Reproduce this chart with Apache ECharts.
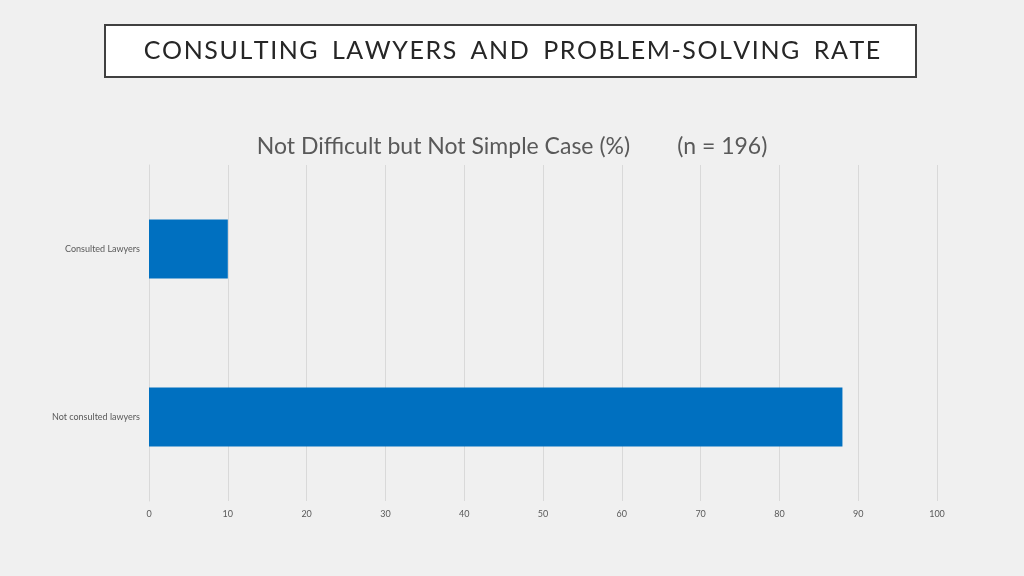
<!DOCTYPE html>
<html>
<head>
<meta charset="utf-8">
<script src="https://cdn.jsdelivr.net/npm/echarts@6/dist/echarts.min.js"></script>
<style>
  html, body { margin: 0; padding: 0; background: #f0f0f0; }
  #main { width: 1024px; height: 576px; }
</style>
</head>
<body>
<div id="main"></div>
<script>
const categories = ['Consulted Lawyers', 'Not consulted lawyers'];
const values = [10, 88];
const xTicks = [0, 10, 20, 30, 40, 50, 60, 70, 80, 90, 100];

const myChart = echarts.init(document.getElementById('main'));
myChart.setOption({
  backgroundColor: '#f0f0f0',
  animation: false,
  graphic: [
    {
      type: 'rect',
      shape: { x: 105, y: 25, width: 811, height: 52 },
      style: { fill: '#ffffff', stroke: '#404040', lineWidth: 2 }
    },
    {
      type: 'text',
      left: 'center',
      top: 38,
      style: {
        text: 'C O N S U L T I N G   L A W Y E R S   A N D   P R O B L E M - S O L V I N G   R A T E'.replace(/ (?! )/g, '\u200a'),
        font: '25px Lato',
        fill: '#262626'
      }
    }
  ],
  title: {
    text: 'Not Difficult but Not Simple Case (%)        (n = 196)',
    left: 'center',
    top: 130,
    textStyle: { color: '#595959', fontSize: 23, fontWeight: 'normal', fontFamily: 'Lato' }
  },
  grid: { left: 149, right: 87, top: 165, bottom: 75 },
  xAxis: {
    type: 'value',
    min: xTicks[0],
    max: xTicks[xTicks.length - 1],
    interval: 10,
    axisLine: { show: false },
    axisTick: { show: false },
    axisLabel: { color: '#595959', fontSize: 9, fontFamily: 'Lato', margin: 9 },
    splitLine: { lineStyle: { color: '#d9d9d9' } }
  },
  yAxis: {
    type: 'category',
    inverse: true,
    data: categories,
    axisLine: { show: true, lineStyle: { color: '#d9d9d9' } },
    axisTick: { show: false },
    axisLabel: { color: '#595959', fontSize: 9, fontFamily: 'Lato', margin: 9 }
  },
  series: [{
    type: 'bar',
    data: values,
    barWidth: 59,
    itemStyle: { color: '#0070c0' }
  }]
});
</script>
</body>
</html>
